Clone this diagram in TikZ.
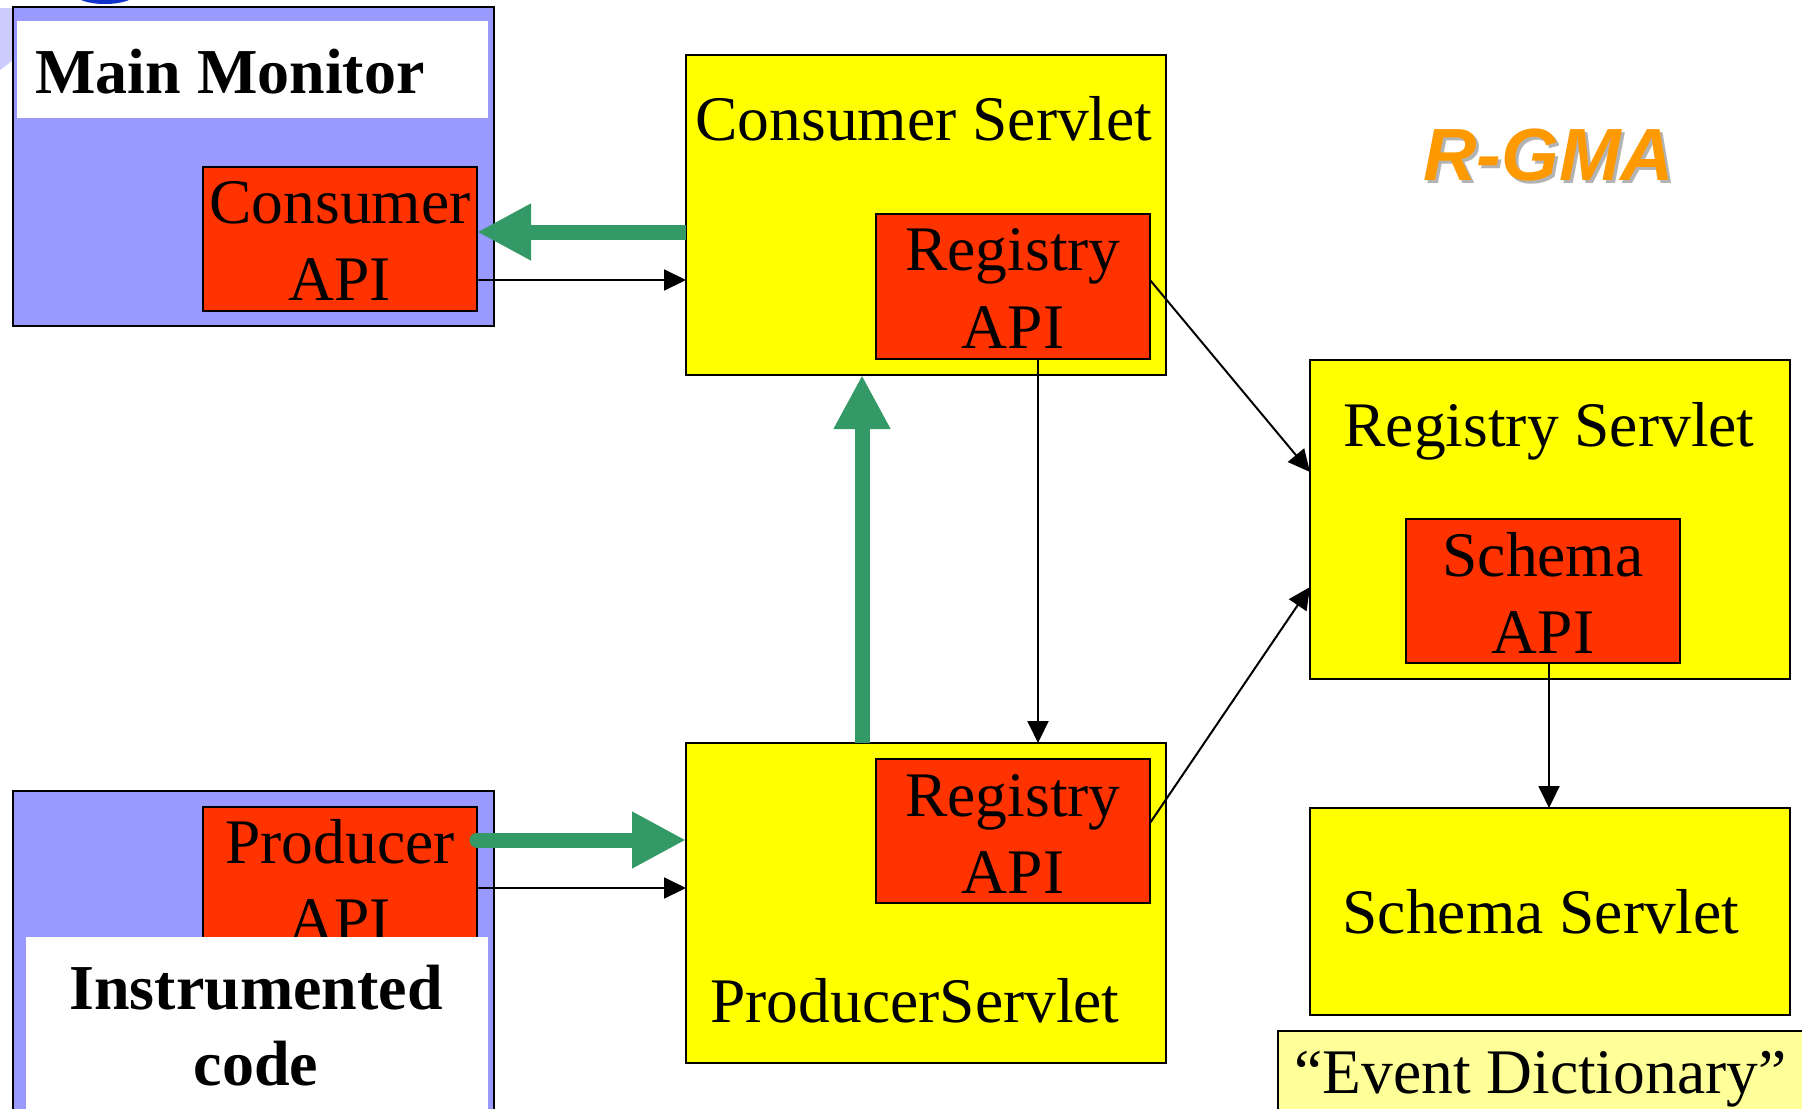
\documentclass[tikz,border=0pt]{standalone}
\usepackage{fontspec}
\setmainfont{Liberation Serif}
\newfontfamily\arialfont{Liberation Sans}
\usetikzlibrary{arrows.meta,fit}
\definecolor{lav}{HTML}{9999FF}
\definecolor{lavlight}{HTML}{CCCCFF}
\definecolor{ylw}{HTML}{FFFF00}
\definecolor{rd}{HTML}{FF3300}
\definecolor{paley}{HTML}{FFFF99}
\definecolor{grn}{HTML}{339966}
\definecolor{orng}{HTML}{FF9900}
\definecolor{shad}{HTML}{B3B3B3}
\definecolor{dotblue}{HTML}{1133CC}
\begin{document}
\begin{tikzpicture}[x=0.5pt,y=-0.5pt,
  boxbase/.style={draw=black,line width=1pt,inner sep=0pt,outer sep=0pt},
  lavbox/.style={boxbase,fill=lav},
  ybox/.style={boxbase,fill=ylw},
  rbox/.style={boxbase,fill=rd},
  edbox/.style={boxbase,fill=paley},
  wpanel/.style={fill=white,draw=none,inner sep=0pt,outer sep=0pt},
  lbl/.style={inner sep=0pt,anchor=base,font=\fontsize{31.75}{38}\selectfont},
  blbl/.style={inner sep=0pt,anchor=base,font=\fontsize{32}{38}\selectfont\bfseries},
  garrow/.style={draw=grn,line width=7.5pt,-{Triangle[length=27pt,width=26.5pt]}},
  karrow/.style={draw=black,line width=1pt,-{Triangle[length=11pt,width=10.5pt]}},
]
\useasboundingbox (0,0) rectangle (1802,1108);
\clip (0,0) rectangle (1802,1108);
% background decorations
\fill[dotblue] (105,-6) ellipse [x radius=30, y radius=10];
\fill[lavlight] (0,8) -- (16,8) -- (16,58) -- (0,70) -- cycle;

% Main Monitor
\node[lavbox, fit={(13,7) (494,326)}] (mm) {};
\node[wpanel, fit={(17,21) (488,118)}] (mmw) {};
\node[blbl, anchor=base west] (mmt) at (35,93) {Main Monitor};
\node[rbox, fit={(203,167) (477,311)}] (capi) {};
\node[lbl] (capit1) at (340,223) {Consumer};
\node[lbl] (capit2) at (340,300) {API};

% Consumer Servlet
\node[ybox, fit={(686,55) (1166,375)}] (cs) {};
\node[lbl] (cst) at (924,140) {Consumer Servlet};
\node[rbox, fit={(876,214) (1150,359)}] (rapi1) {};
\node[lbl] (rapi1t1) at (1013,270) {Registry};
\node[lbl] (rapi1t2) at (1013,348) {API};

% Registry Servlet
\node[ybox, fit={(1310,360) (1790,679)}] (rs) {};
\node[lbl] (rst) at (1549,446) {Registry Servlet};
\node[rbox, fit={(1406,519) (1680,663)}] (sapi) {};
\node[lbl] (sapit1) at (1543,576) {Schema};
\node[lbl] (sapit2) at (1543,653) {API};

% Schema Servlet
\node[ybox, fit={(1310,808) (1790,1015)}] (ss) {};
\node[lbl] (sst) at (1541,933) {Schema Servlet};

% Event Dictionary
\node[edbox, fit={(1278,1031) (1840,1140)}] (ed) {};
\node[lbl, anchor=base west] (edt) at (1294,1093) {“Event Dictionary”};

% Producer Servlet
\node[ybox, fit={(686,743) (1166,1063)}] (ps) {};
\node[rbox, fit={(876,759) (1150,903)}] (rapi2) {};
\node[lbl] (rapi2t1) at (1013,816) {Registry};
\node[lbl] (rapi2t2) at (1013,893) {API};
\node[lbl] (pst) at (915,1022) {ProducerServlet};

% Instrumented code
\node[lavbox, fit={(13,791) (494,1140)}] (ic) {};
\node[rbox, fit={(203,807) (477,1010)}] (papi) {};
\node[lbl] (papit1) at (340,863) {Producer};
\node[lbl] (papit2) at (340,941) {API};
\node[wpanel, fit={(26,937) (488,1140)}] (icw) {};
\node[blbl] (ict1) at (256,1009) {Instrumented};
\node[blbl] (ict2) at (256,1085) {code};

% R-GMA title
\node[inner sep=0pt, anchor=base west, text=shad,
      font=\arialfont\fontsize{37}{40}\selectfont\bfseries\itshape] (rgmas) at (1426,183) {R-GMA};
\node[inner sep=0pt, anchor=base west, text=orng,
      font=\arialfont\fontsize{37}{40}\selectfont\bfseries\itshape] (rgma) at (1423,180) {R-GMA};

% green flow arrows
\draw[garrow] (cs.west |- 0,232) -- (capi.east |- 0,232);
\draw[garrow, line cap=round] (papi.east |- 0,840) -- (ps.west |- 0,840);
\draw[garrow] (ps.north -| 862,0) -- (cs.south -| 862,0);

% black arrows
\draw[karrow] (capi.east |- 0,280) -- (cs.west |- 0,280);
\draw[karrow] (papi.east |- 0,888) -- (ps.west |- 0,888);
\draw[karrow] (rapi1.south -| 1038,0) -- (ps.north -| 1038,0);
\draw[karrow] (rapi1.east |- 0,280) -- (rs.west |- 0,472);
\draw[karrow] (rapi2.east |- 0,823) -- (rs.west |- 0,587);
\draw[karrow] (sapi.south -| 1549,0) -- (ss.north -| 1549,0);
\end{tikzpicture}
\end{document}
